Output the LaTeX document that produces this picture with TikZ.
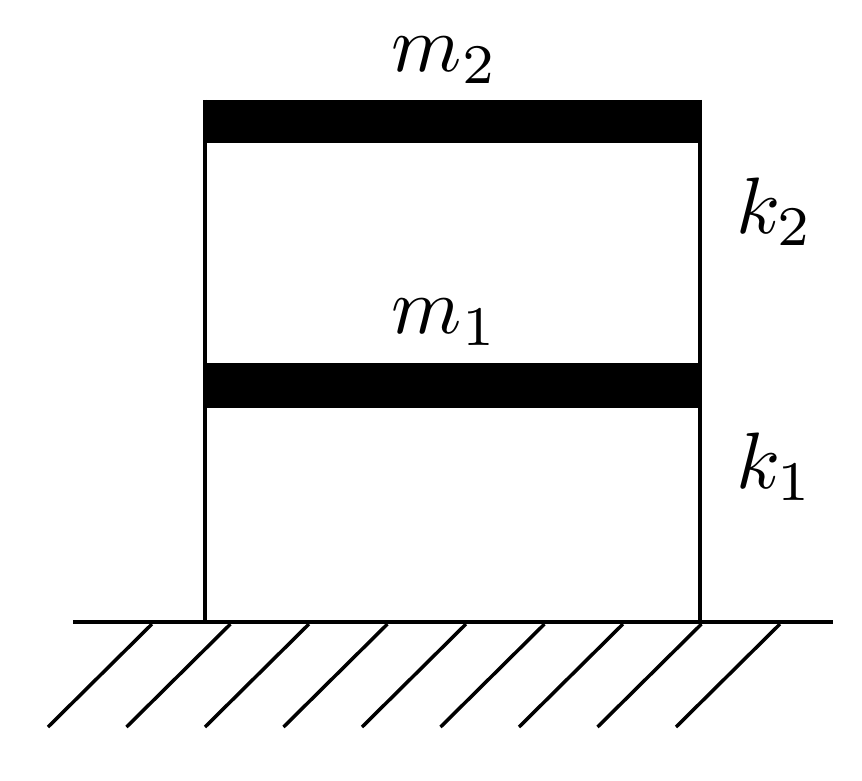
\documentclass[tikz,border=0pt]{standalone}
\usepackage{graphicx}
\begin{document}
\begin{tikzpicture}[x=1pt,y=-1pt,line width=3.5pt,
  lbl/.style={inner sep=0pt},
  bar/.style={fill=black,draw=none}]
\useasboundingbox (0,0) rectangle (862,781);
\coordinate (bl) at (205,622);
\coordinate (br) at (700,622);
\coordinate (tl) at (205,100);
\coordinate (tr) at (700,100);
\fill[bar] (205,100) rectangle (700,143);
\fill[bar] (205,363) rectangle (700,408);
\draw (tl) -- (bl);
\draw (tr) -- (br);
\coordinate (g1) at (73,622);
\coordinate (g2) at (833,622);
\draw (g1) -- (g2);
\foreach \i in {0,...,8}{
  \draw (48+78.5*\i,727) -- (152+78.5*\i,624);
}
\node[lbl] (m2) at (445,60) {\scalebox{8}{$m_2$}};
\node[lbl] (k2) at (775,212) {\scalebox{8}{$k_2$}};
\node[lbl] (m1) at (445,322) {\scalebox{8}{$m_1$}};
\node[lbl] (k1) at (775,467) {\scalebox{8}{$k_1$}};
\end{tikzpicture}
\end{document}
